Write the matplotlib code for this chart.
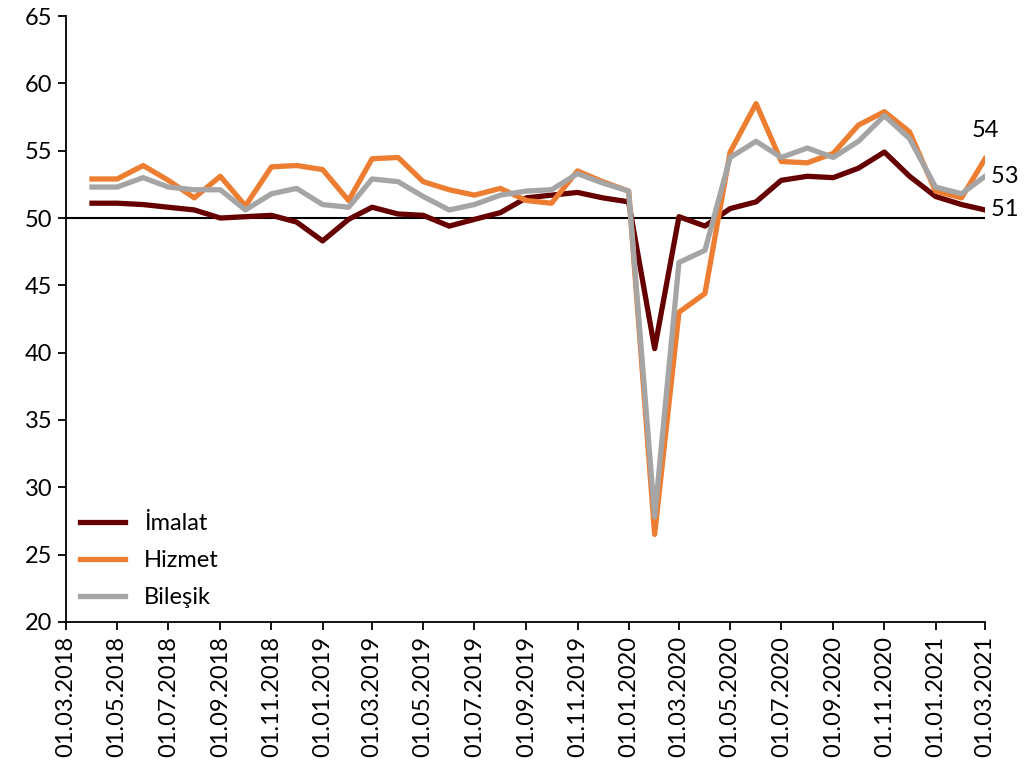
import matplotlib
matplotlib.use("Agg")
import matplotlib.pyplot as plt
import pandas as pd

plt.rcParams['font.family'] = ['Lato', 'DejaVu Sans']

tarihler = pd.date_range("2018-04-01", periods=36, freq="MS")
tik_tarihleri = pd.date_range("2018-03-01", "2021-03-01", freq="2MS")

imalat = [51.1, 51.1, 51.0, 50.8, 50.6, 50.0, 50.1, 50.2, 49.7, 48.3, 49.9, 50.8,
          50.3, 50.2, 49.4, 49.9, 50.4, 51.5, 51.7, 51.9, 51.5, 51.2, 40.3, 50.1,
          49.4, 50.7, 51.2, 52.8, 53.1, 53.0, 53.7, 54.9, 53.1, 51.6, 51.0, 50.6]
hizmet = [52.9, 52.9, 53.9, 52.8, 51.5, 53.1, 50.9, 53.8, 53.9, 53.6, 51.3, 54.4,
          54.5, 52.7, 52.1, 51.7, 52.2, 51.3, 51.1, 53.5, 52.7, 52.0, 26.5, 43.0,
          44.4, 54.9, 58.5, 54.2, 54.1, 54.8, 56.9, 57.9, 56.4, 52.0, 51.5, 54.4]
bilesik = [52.3, 52.3, 53.0, 52.3, 52.1, 52.1, 50.6, 51.8, 52.2, 51.0, 50.8, 52.9,
           52.7, 51.6, 50.6, 51.0, 51.7, 52.0, 52.1, 53.3, 52.6, 52.0, 27.8, 46.7,
           47.6, 54.5, 55.7, 54.5, 55.2, 54.5, 55.7, 57.6, 55.9, 52.3, 51.8, 53.1]

fig = plt.figure(figsize=(10.28, 7.65), dpi=100)
ax = fig.add_axes([0.0642, 0.187, 0.894, 0.792])

ax.axhline(50, color="black", linewidth=1.5, zorder=1)
ax.plot(tarihler, imalat, color="#660000", linewidth=3.8, label="İmalat", zorder=2)
ax.plot(tarihler, hizmet, color="#ED7D31", linewidth=3.8, label="Hizmet", zorder=3)
ax.plot(tarihler, bilesik, color="#A5A5A5", linewidth=3.8, label="Bileşik", zorder=4)

ax.set_ylim(20, 65)
ax.set_yticks(range(20, 66, 5))
ax.set_xlim(tik_tarihleri[0], tik_tarihleri[-1])
ax.set_xticks(tik_tarihleri)
ax.set_xticklabels([d.strftime("%d.%m.%Y") for d in tik_tarihleri], rotation=90)
ax.tick_params(labelsize=17, width=1.3, length=6, direction="out", pad=4)

for s in ["top", "right"]:
    ax.spines[s].set_visible(False)
for s in ["left", "bottom"]:
    ax.spines[s].set_linewidth(1.3)

ax.text(tarihler[-1], hizmet[-1] + 1.3, f"{hizmet[-1]:.0f}", fontsize=17,
        ha="center", va="bottom")
ax.text(tarihler[-1], bilesik[-1], f" {bilesik[-1]:.0f}", fontsize=17,
        ha="left", va="center", clip_on=False)
ax.text(tarihler[-1], imalat[-1], f" {imalat[-1]:.0f}", fontsize=17,
        ha="left", va="center", clip_on=False)

ax.legend(loc="lower left", frameon=False, fontsize=17, handlelength=1.9,
          labelspacing=0.68, handletextpad=0.8, bbox_to_anchor=(-0.008, -0.012))

fig.savefig("out.png", dpi=100)
